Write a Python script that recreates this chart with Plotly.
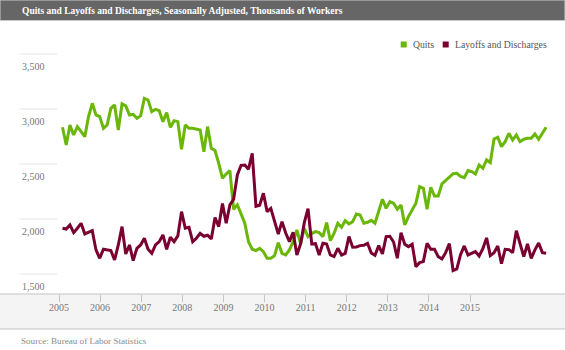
import plotly.graph_objects as go

# ---------------- data (thousands of workers, monthly) ----------------
years = ["2005", "2006", "2007", "2008", "2009", "2010", "2011", "2012", "2013", "2014", "2015"]
y_ticks = [1500, 2000, 2500, 3000, 3500]

quits = [
    2834, 2673, 2855, 2764, 2840, 2794, 2749, 2931, 3052, 2946,
    2931, 2825, 2855, 3006, 3037, 2809, 3046, 3028, 2946, 2952,
    2915, 2937, 3097, 3082, 2976, 2997, 2985, 2885, 2967, 2834,
    2894, 2885, 2634, 2855, 2825, 2825, 2818, 2809, 2612, 2840,
    2643, 2622, 2506, 2370, 2409, 2440, 2088, 2128, 2046, 1961,
    1794, 1725, 1713, 1734, 1703, 1643, 1643, 1667, 1785, 1688,
    1673, 1719, 1794, 1900, 1773, 1916, 1840, 1867, 1885, 1876,
    1840, 1967, 1803, 1870, 1961, 1925, 1985, 1955, 1976, 2046,
    2037, 1961, 1970, 1988, 1961, 2082, 2179, 2097, 2158, 2143,
    2088, 2128, 1946, 2022, 2079, 2143, 2294, 2279, 2088, 2288,
    2209, 2209, 2319, 2349, 2382, 2412, 2415, 2388, 2376, 2440,
    2431, 2409, 2491, 2461, 2537, 2512, 2728, 2743, 2658, 2703,
    2779, 2718, 2764, 2703, 2725, 2734, 2734, 2773, 2725, 2785,
    2834,
]

layoffs = [
    1916, 1909, 1946, 1876, 1916, 1961, 1864, 1876, 1894, 1719,
    1643, 1725, 1719, 1713, 1628, 1764, 1931, 1682, 1764, 1622,
    1734, 1764, 1825, 1725, 1688, 1764, 1794, 1855, 1725, 1834,
    1794, 1846, 2067, 1916, 1925, 1794, 1825, 1870, 1843, 1852,
    1819, 2013, 1931, 2140, 1961, 2128, 2179, 2400, 2488, 2491,
    2452, 2597, 2116, 2125, 2234, 2067, 2097, 1976, 1864, 1976,
    1873, 1794, 1879, 1673, 1773, 1967, 2094, 1773, 1776, 1673,
    1779, 1773, 1673, 1658, 1734, 1673, 1688, 1840, 1743, 1746,
    1758, 1761, 1779, 1691, 1670, 1758, 1682, 1840, 1843, 1791,
    1643, 1876, 1770, 1749, 1770, 1567, 1603, 1613, 1779, 1725,
    1725, 1658, 1637, 1694, 1776, 1531, 1546, 1676, 1755, 1673,
    1688, 1703, 1664, 1731, 1828, 1667, 1694, 1755, 1594, 1725,
    1722, 1694, 1894, 1770, 1658, 1773, 1643, 1719, 1782, 1694,
    1688,
]
months = list(range(len(quits)))

# ---------------- styling ----------------
W, H = 565, 350
GREEN = "#6ab70a"
MAROON = "#7a0031"
SERIF = "Liberation Serif"

def px(p):
    return p / W

def py(p):
    return 1 - p / H

# pixel geometry of the plotting area
x0_pix, dx_pix = 62.5, 3.72          # first month position and spacing
plot_top, plot_bot = 30, 294
grid_top_val, grid_top_pix, pix_per_unit = 3500, 54, 0.11

def val_at(p):
    return grid_top_val - (p - grid_top_pix) / pix_per_unit

x_range = [(0 - x0_pix) / dx_pix, (W - x0_pix) / dx_pix]
tick_first, tick_step = (59 - x0_pix) / dx_pix, 41.1 / dx_pix
tickvals = [tick_first + k * tick_step for k in range(len(years))]

fig = go.Figure()
fig.add_trace(go.Scatter(x=months, y=quits, mode="lines", name="Quits",
                         line=dict(color=GREEN, width=3), hoverinfo="skip"))
fig.add_trace(go.Scatter(x=months, y=layoffs, mode="lines", name="Layoffs and Discharges",
                         line=dict(color=MAROON, width=3), hoverinfo="skip"))

shapes = []
annotations = []

# title bar
shapes.append(dict(type="rect", xref="paper", yref="paper", x0=0, x1=1,
                   y0=py(20.5), y1=1, fillcolor="#666666",
                   line=dict(color="#c8c8c8", width=1), layer="above"))
annotations.append(dict(xref="paper", yref="paper", x=px(20), y=py(10.5),
                        xanchor="left", yanchor="middle", showarrow=False,
                        text="<b>Quits and Layoffs and Discharges, Seasonally Adjusted, Thousands of Workers</b>",
                        font=dict(family=SERIF, size=9.5, color="#ffffff")))

# x-axis band
shapes.append(dict(type="rect", xref="paper", yref="paper", x0=0, x1=1,
                   y0=py(329), y1=py(294), fillcolor="#f4f4f4",
                   line=dict(width=0), layer="below"))
for yy in (294, 329):
    shapes.append(dict(type="line", xref="paper", yref="paper", x0=0, x1=1,
                       y0=py(yy), y1=py(yy), line=dict(color="#c4c4c4", width=1.2),
                       layer="below"))

# short y gridlines with labels below them
for v in y_ticks:
    shapes.append(dict(type="line", xref="paper", yref="y", x0=px(19.5), x1=px(57),
                       y0=v, y1=v, line=dict(color="#e4e4e4", width=1), layer="below"))
    annotations.append(dict(xref="paper", yref="y", x=px(19.5), y=v, yshift=-12,
                            xanchor="left", yanchor="middle", showarrow=False,
                            text=f"{v:,}", font=dict(family=SERIF, size=10, color="#777777")))

# legend
legend_items = [("Quits", GREEN, 400.7), ("Layoffs and Discharges", MAROON, 442.7)]
for label, col, lx in legend_items:
    shapes.append(dict(type="rect", xref="paper", yref="paper", x0=px(lx), x1=px(lx + 6),
                       y0=py(47.5), y1=py(41.5), fillcolor=col, line=dict(width=0)))
    annotations.append(dict(xref="paper", yref="paper", x=px(lx + 10), y=py(44.5),
                            xanchor="left", yanchor="middle", showarrow=False, text=label,
                            font=dict(family=SERIF, size=9.7, color="#555555")))

# source
annotations.append(dict(xref="paper", yref="paper", x=px(19), y=py(341),
                        xanchor="left", yanchor="middle", showarrow=False,
                        text="Source: Bureau of Labor Statistics",
                        font=dict(family=SERIF, size=9.1, color="#8a8a8a")))

fig.update_layout(
    width=W, height=H, autosize=False,
    margin=dict(l=0, r=0, t=0, b=0, pad=0),
    paper_bgcolor="#ffffff", plot_bgcolor="rgba(0,0,0,0)",
    showlegend=False,
    shapes=shapes, annotations=annotations,
    xaxis=dict(domain=[0, 1], range=x_range, tickmode="array", tickvals=tickvals,
               ticktext=years, ticks="outside", ticklen=7, tickcolor="#c4c4c4",
               tickwidth=1, showgrid=False, zeroline=False, showline=False,
               ticklabelstandoff=-3,
               tickfont=dict(family=SERIF, size=10, color="#777777"), fixedrange=True),
    yaxis=dict(domain=[py(plot_bot), py(plot_top)],
               range=[val_at(plot_bot), val_at(plot_top)],
               showgrid=False, zeroline=False, showline=False, showticklabels=False,
               ticks="", fixedrange=True),
)

fig.write_html("out.html")
